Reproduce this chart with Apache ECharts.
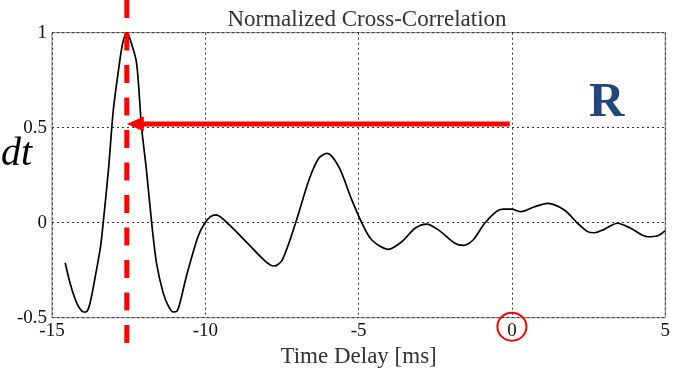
<!DOCTYPE html>
<html>
<head>
<meta charset="utf-8">
<script src="https://cdn.jsdelivr.net/npm/echarts@6/dist/echarts.min.js"></script>
<style>
html,body{margin:0;padding:0;background:#fff;}
#c{width:673px;height:375px;}
</style>
</head>
<body>
<div id="c"></div>
<script>
// Time delay (ms) and normalized cross-correlation values
const delays = [-14.57,-14.41,-14.25,-14.13,-13.97,-13.87,-13.76,-13.59,-13.42,-13.33,-13.16,-13.00,-12.83,-12.70,-12.56,-12.42,-12.24,-12.08,-11.92,-11.75,-11.59,-11.37,-11.20,-11.05,-10.93,-10.83,-10.62,-10.24,-10.02,-9.83,-9.65,-9.22,-8.57,-8.03,-7.76,-7.49,-7.06,-6.62,-6.30,-6.03,-5.65,-5.22,-4.89,-4.57,-4.03,-3.59,-3.16,-2.78,-2.40,-1.86,-1.59,-1.27,-0.89,-0.51,-0.29,-0.02,0.30,0.74,1.17,1.71,2.14,2.47,2.69,3.01,3.44,3.87,4.42,4.74,5.00];
const corr   = [-0.211,-0.319,-0.40,-0.442,-0.470,-0.468,-0.424,-0.284,-0.13,0.0,0.277,0.593,0.804,0.94,1.0,0.95,0.839,0.505,0.277,0.0,-0.214,-0.372,-0.44,-0.470,-0.466,-0.424,-0.284,-0.074,-0.003,0.032,0.041,-0.012,-0.117,-0.205,-0.228,-0.196,-0.003,0.225,0.339,0.365,0.295,0.119,-0.003,-0.091,-0.140,-0.100,-0.029,-0.007,-0.038,-0.108,-0.119,-0.091,-0.003,0.058,0.071,0.071,0.058,0.084,0.102,0.067,-0.003,-0.047,-0.053,-0.035,-0.003,-0.029,-0.074,-0.070,-0.042];
const xTicks = [-15,-10,-5,0,5];
const yTicks = [-0.5,0,0.5,1];
// annotation values (data units)
const peakDelay = -12.56;
const arrowLevel = 0.52;
const arrowStart = -0.07;
const circledTick = 0;

const serif = '"Liberation Serif","DejaVu Serif",serif';
const chart = echarts.init(document.getElementById('c'));
const pts = delays.map((d,i)=>[d,corr[i]]);

chart.setOption({
  animation:false,
  backgroundColor:'#fff',
  title:{text:'Normalized Cross-Correlation',left:362,top:3,textAlign:'center',
    textStyle:{fontFamily:serif,fontWeight:'normal',fontSize:23,color:'#333'}},
  grid:{left:52,right:5,top:32.7,bottom:57.3,show:true,borderColor:'#777',borderWidth:1},
  xAxis:{type:'value',min:xTicks[0],max:xTicks[xTicks.length-1],interval:5,
    name:'Time Delay [ms]',nameLocation:'middle',nameGap:27,
    nameTextStyle:{fontFamily:serif,fontSize:23,color:'#333'},
    axisLine:{show:false},axisTick:{show:false},
    axisLabel:{fontFamily:serif,fontSize:19,color:'#111',margin:4},
    splitLine:{show:true,lineStyle:{color:'#333',type:[2,3],width:1}}},
  yAxis:{type:'value',min:yTicks[0],max:yTicks[yTicks.length-1],interval:0.5,
    axisLine:{show:false},axisTick:{show:false},
    axisLabel:{fontFamily:serif,fontSize:19,color:'#111',margin:5},
    splitLine:{show:true,lineStyle:{color:'#333',type:[2,3],width:1}}},
  series:[{type:'line',data:pts,showSymbol:false,smooth:0.3,
    lineStyle:{color:'#000',width:1.7},z:3}]
});

function px(x,y){return chart.convertToPixel({gridIndex:0},[x,y]);}
const pk = px(peakDelay,arrowLevel);
const st = px(arrowStart,arrowLevel);
const ct = px(circledTick,yTicks[0]);
chart.setOption({graphic:[
  {type:'line',shape:{x1:pk[0],y1:0,x2:pk[0],y2:345},
   style:{stroke:'#ff0000',lineWidth:5,lineDash:[18,14.5]},z:10},
  {type:'line',shape:{x1:st[0],y1:pk[1],x2:pk[0]+14,y2:pk[1]},
   style:{stroke:'#ff0000',lineWidth:5},z:11},
  {type:'polygon',shape:{points:[[pk[0],pk[1]],[pk[0]+17,pk[1]-7.5],[pk[0]+17,pk[1]+7.5]]},
   style:{fill:'#ff0000'},z:11},
  {type:'ellipse',shape:{cx:ct[0],cy:ct[1]+9,rx:14.5,ry:14},
   style:{stroke:'#ff0000',lineWidth:2,fill:'none'},z:11},
  {type:'text',left:1,top:134,style:{text:'dt',font:'italic 40px '+serif,fill:'#000'}},
  {type:'text',left:589,top:79,style:{text:'R',font:'bold 49px '+serif,fill:'#22467a'}}
]});
</script>
</body>
</html>
